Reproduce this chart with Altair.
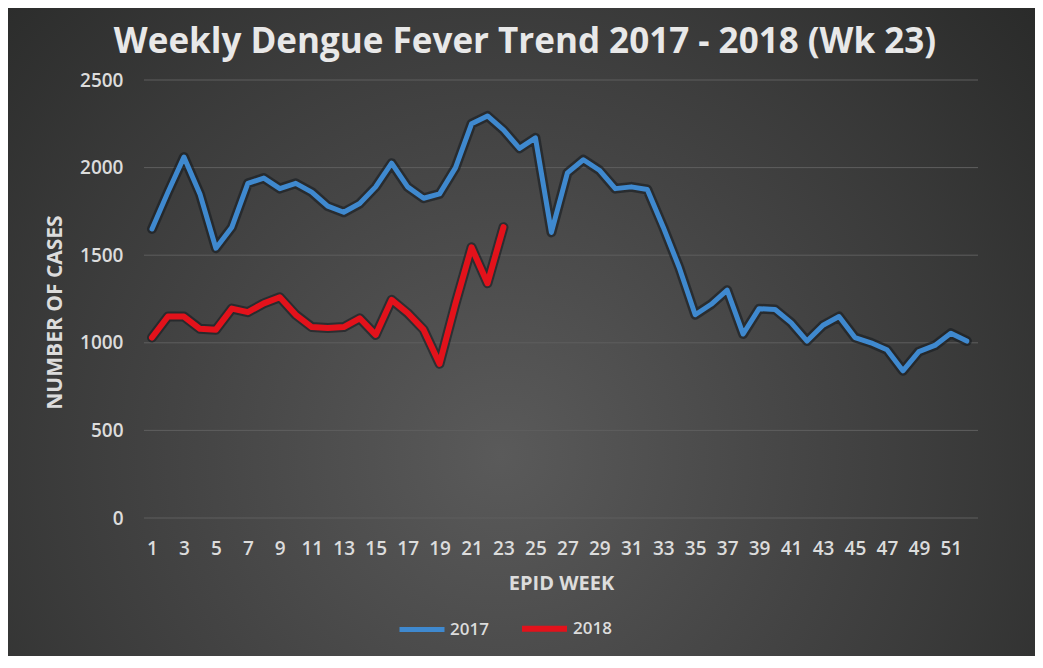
import altair as alt
import pandas as pd

# ---- data ----
weeks_2017 = list(range(1, 53))
cases_2017 = [1650, 1860, 2060, 1850, 1540, 1660, 1910, 1940, 1880, 1910,
              1860, 1780, 1745, 1795, 1890, 2025, 1890, 1825, 1850, 2000,
              2250, 2295, 2215, 2110, 2170, 1630, 1970, 2045, 1985, 1880,
              1890, 1875, 1660, 1430, 1160, 1220, 1300, 1050, 1195, 1190,
              1115, 1010, 1100, 1150, 1030, 1000, 960, 840, 950, 985,
              1055, 1010]
weeks_2018 = list(range(1, 24))
cases_2018 = [1030, 1150, 1150, 1080, 1075, 1195, 1175, 1225, 1260, 1160,
              1090, 1085, 1090, 1140, 1045, 1245, 1170, 1075, 880, 1225,
              1545, 1340, 1660]
years = ["2017", "2018"]
line_colors = ["#3f89cf", "#e3121b"]
y_ticks = [0, 500, 1000, 1500, 2000, 2500]
x_ticks = list(range(1, 52, 2))
title_text = "Weekly Dengue Fever Trend 2017 - 2018 (Wk 23)"

df = pd.concat([
    pd.DataFrame({"week": weeks_2017, "cases": cases_2017, "year": "2017"}),
    pd.DataFrame({"week": weeks_2018, "cases": cases_2018, "year": "2018"}),
], ignore_index=True)

W, H = 834, 438
PL, PT = 136, 72
PR = 1027 - PL - W
PB = 648 - PT - H
FONT = "Open Sans"
TXT = "#dcdcdc"

grad = alt.Gradient(
    gradient="radial",
    stops=[alt.GradientStop(offset=0, color="#5a5a5a"),
           alt.GradientStop(offset=0.45, color="#434343"),
           alt.GradientStop(offset=1, color="#272827")],
    x1=0.48, y1=0.62, r1=0, x2=0.48, y2=0.62, r2=0.72,
)

bg = alt.Chart(pd.DataFrame({"k": [0]})).mark_rect(fill=grad).encode(
    x=alt.value(-PL), x2=alt.value(W + PR), y=alt.value(-PT), y2=alt.value(H + PB)
)

title = alt.Chart(pd.DataFrame({"t": [title_text]})).mark_text(
    font=FONT, fontSize=35, fontWeight="bold", color="#e8e8e8",
    align="center", baseline="alphabetic"
).encode(text="t:N", x=alt.value(381), y=alt.value(-27))

yscale = alt.Scale(domain=[0, 2500], nice=False)
xscale = alt.Scale(domain=[0.5, 52.7], nice=False, zero=False)

x_enc = alt.X("week:Q", scale=xscale, axis=alt.Axis(
    values=x_ticks, format="d", title="EPID WEEK", grid=False, domain=False,
    ticks=False, labelPadding=21, labelFontSize=19, labelFont=FONT,
    labelFontWeight=600, labelColor=TXT, titleFont=FONT, titleFontSize=20,
    titleFontWeight="bold", titleColor=TXT, titlePadding=15, zindex=1,
    labelFlush=False, labelOverlap=False))
y_enc = alt.Y("cases:Q", scale=yscale, axis=alt.Axis(
    values=y_ticks, format="d", title="NUMBER OF CASES", grid=False, domain=False,
    ticks=False, labelPadding=21, labelFontSize=19, labelFont=FONT,
    labelFontWeight=600, labelColor=TXT, titleFont=FONT, titleFontSize=21,
    titleFontWeight="bold", titleColor=TXT, titlePadding=14, titleY=232,
    zindex=1))

grid = alt.Chart(pd.DataFrame({"cases": y_ticks})).mark_rule(
    color="#5e5e5e", strokeWidth=1
).encode(y=y_enc)

base = alt.Chart(df)

shadow = base.mark_line(strokeWidth=10, color="#151a20", opacity=0.6,
                        strokeJoin="round", strokeCap="round").encode(
    x=x_enc, y=y_enc, detail="year:N")

lines = base.mark_line(strokeJoin="round", strokeCap="round").encode(
    x=x_enc, y=y_enc,
    color=alt.Color("year:N", scale=alt.Scale(domain=years, range=line_colors),
                    legend=alt.Legend(
                        title=None, orient="none", direction="horizontal",
                        legendX=253, legendY=523, symbolType="stroke",
                        symbolSize=2025, symbolStrokeWidth=7,
                        labelFontSize=17, labelFont=FONT, labelFontWeight=600,
                        labelColor=TXT, columnPadding=21, labelOffset=3,
                        padding=0)),
    strokeWidth=alt.StrokeWidth("year:N", scale=alt.Scale(domain=years, range=[5, 6]),
                                legend=None),
)

chart = alt.layer(bg, grid, shadow, lines, title).properties(
    width=W, height=H,
    padding={"left": PL, "top": PT, "right": PR, "bottom": PB},
    autosize=alt.AutoSizeParams(type="none"),
).configure_view(stroke=None)

chart.save("out.html", embed_options={"renderer": "svg", "actions": False})
